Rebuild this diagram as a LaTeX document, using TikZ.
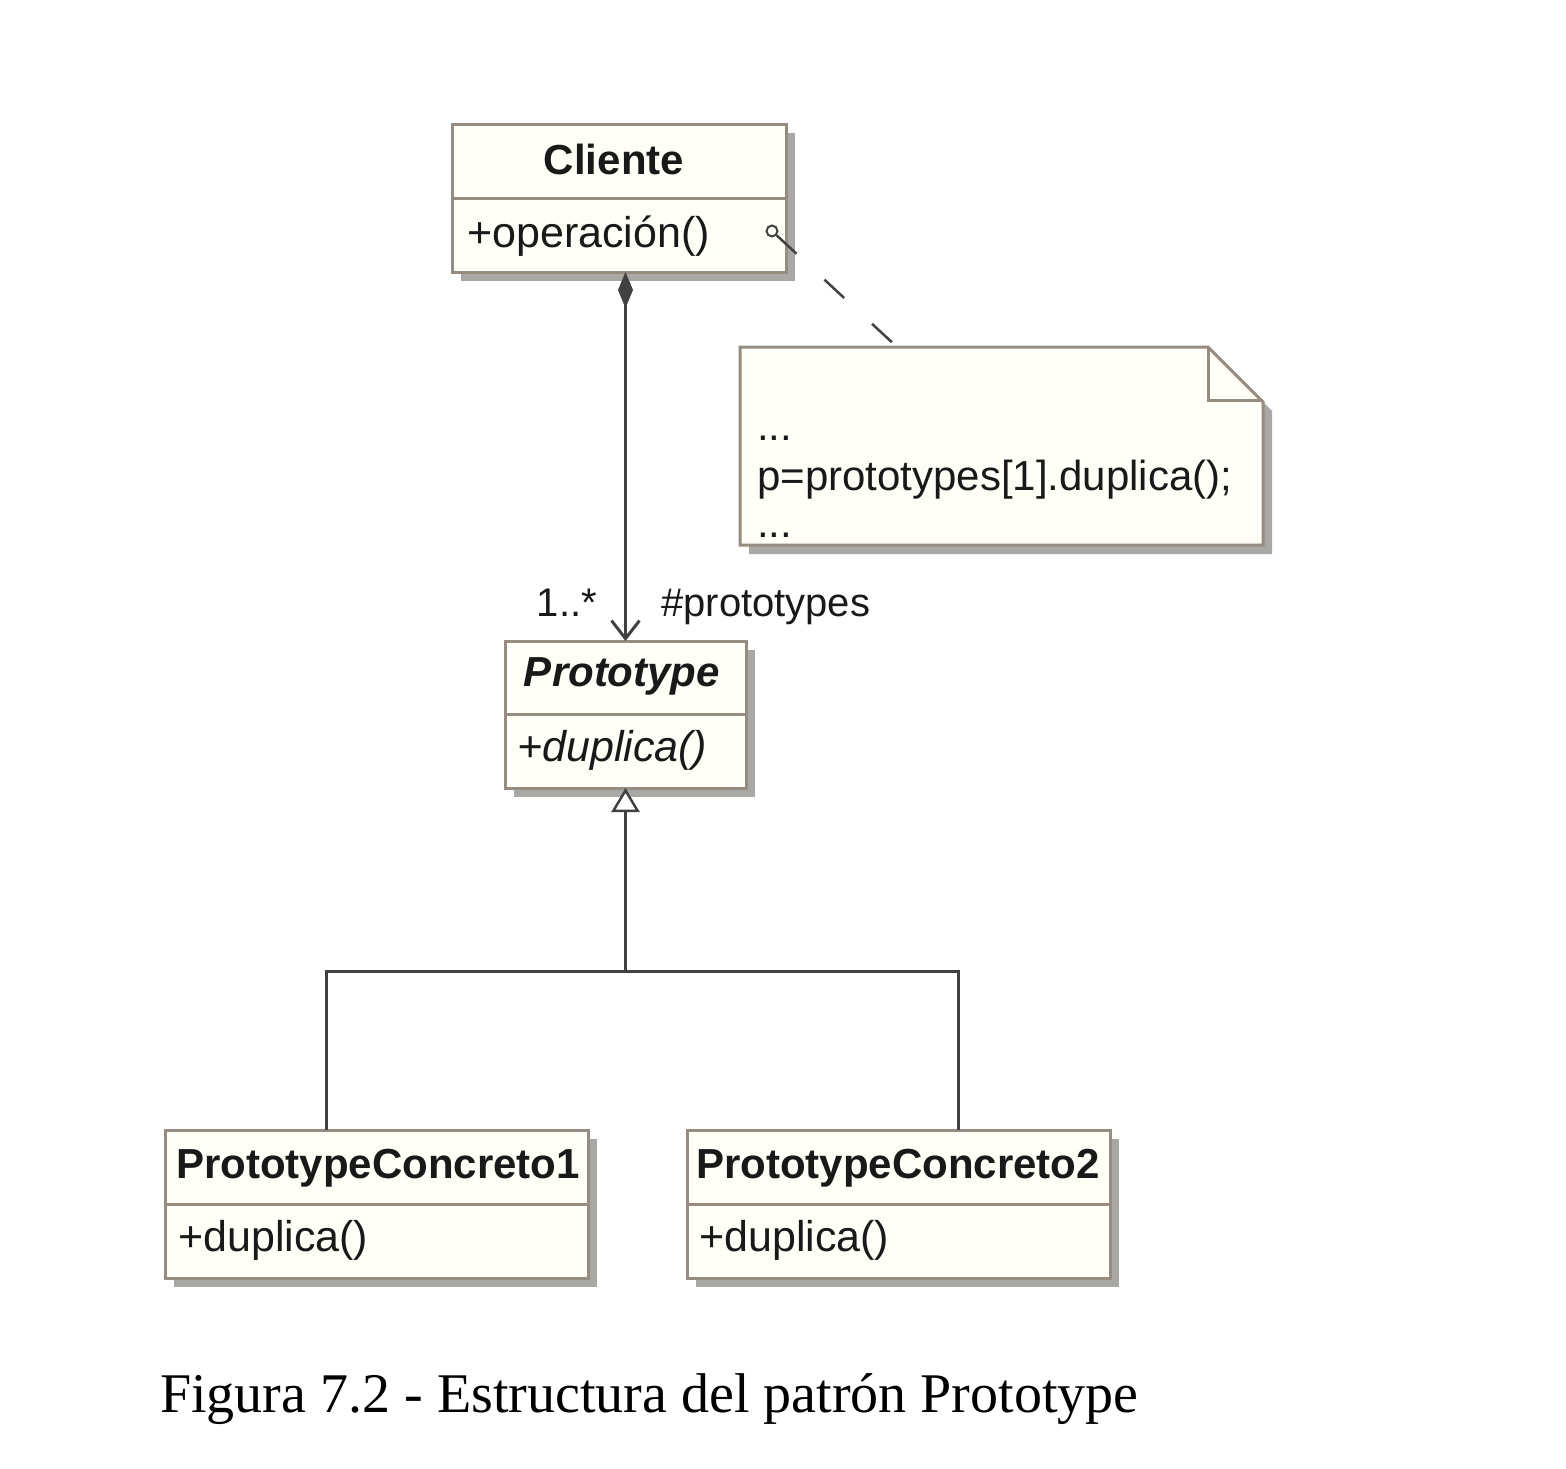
\documentclass[tikz,border=0pt]{standalone}
\usepackage{fontspec}
\setmainfont{Liberation Sans}
\newfontfamily\capfont{Liberation Serif}
\usetikzlibrary{arrows.meta,shadows}
\definecolor{boxborder}{RGB}{150,140,128}
\definecolor{boxfill}{RGB}{255,254,247}
\definecolor{shadowgray}{RGB}{170,168,165}
\definecolor{linecol}{RGB}{65,65,65}
\definecolor{textcol}{RGB}{25,25,25}
\begin{document}
\begin{tikzpicture}[x=1pt,y=-1pt,
  classbox/.style={draw=boxborder, fill=boxfill, line width=3pt, inner sep=0pt, outer sep=0pt,
    anchor=north west,
    drop shadow={shadow xshift=9pt, shadow yshift=-9pt, fill=shadowgray, opacity=1}},
  divider/.style={draw=boxborder, line width=3pt},
  hdr/.style={font=\fontsize{42}{48}\selectfont\bfseries, text=textcol, inner sep=0pt},
  meth/.style={font=\fontsize{43}{48}\selectfont, text=textcol, inner sep=0pt, anchor=west},
  notetxt/.style={font=\fontsize{42}{48}\selectfont, text=textcol, inner sep=0pt, anchor=base west},
  lbl/.style={font=\fontsize{40}{48}\selectfont, text=textcol, inner sep=0pt},
  assoc/.style={draw=linecol, line width=3pt},
  notelink/.style={draw=linecol, line width=2.5pt, dash pattern=on 27pt off 38pt}
]
\useasboundingbox[fill=white] (0,0) rectangle (1566,1468);

% ---- Cliente
\node[classbox, minimum width=334pt, minimum height=148pt] (cliente) at (452,124) {};
\draw[divider] (452,198) -- (786,198);
\node[hdr] (clienteT) at (614,159) {Cliente};
\node[meth] (clienteM) at (467,236) {+operación()};

% ---- Note
\node[inner sep=0pt, outer sep=0pt, minimum width=523pt, minimum height=198pt, anchor=north west] (note) at (740,347) {};
\fill[shadowgray] (749,356) -- (1217,356) -- (1272,411) -- (1272,554) -- (749,554) -- cycle;
\draw[draw=boxborder, fill=boxfill, line width=3pt, line join=miter]
  (note.north west) -- (1208,347) -- (note.north east |- 0,402) -- (note.south east) -- (note.south west) -- cycle;
\draw[draw=boxborder, line width=3pt] (1208,347) -- (1208,400) -- (1263,400);
\node[notetxt] (nd1) at (757,440) {...};
\node[notetxt] (ntext) at (757,490) {p=prototypes[1].duplica();};
\node[notetxt] (nd2) at (757,537) {...};

% ---- note link
\node[draw=linecol, circle, line width=2pt, minimum size=11pt, inner sep=0pt] (anc) at (772,231) {};
\coordinate (notetop) at (897,347);
\draw[notelink] (anc) -- (notetop);

% ---- Prototype
\node[classbox, minimum width=241pt, minimum height=147pt] (proto) at (505,641) {};
\draw[divider] (505,714) -- (746,714);
\node[hdr, font=\fontsize{42}{48}\selectfont\bfseries\itshape] (protoT) at (622,676) {Prototype};
\node[meth, font=\fontsize{43}{48}\selectfont\itshape] (protoM) at (517,750) {+duplica()};

% ---- composition
\draw[assoc, {Diamond[length=36pt,width=15pt]}-{Straight Barb[length=18pt,width=28pt]}]
  (cliente.south -| proto.north) -- (proto.north);
\node[lbl, anchor=base east] (mult) at (597,616) {1..*};
\node[lbl, anchor=base west] (role) at (661,616) {\#prototypes};

% ---- concrete classes
\node[classbox, minimum width=423pt, minimum height=148pt] (pc1) at (165,1130) {};
\draw[divider] (165,1204) -- (588,1204);
\node[hdr, anchor=west] (pc1T) at (176,1168) {PrototypeConcreto1};
\node[meth] (pc1M) at (178,1240) {+duplica()};

\node[classbox, minimum width=423pt, minimum height=148pt] (pc2) at (687,1130) {};
\draw[divider] (687,1204) -- (1110,1204);
\node[hdr, anchor=west] (pc2T) at (696,1168) {PrototypeConcreto2};
\node[meth] (pc2M) at (699,1240) {+duplica()};

% ---- generalization
\path (proto.south) ++(0,183) coordinate (j);
\draw[assoc] ([xshift=-50.5pt]pc1.north) |- (j);
\draw[assoc] ([xshift=59.5pt]pc2.north) |- (j);
\draw[assoc, -{Triangle[length=24pt,width=28pt,fill=white,line width=2.5pt]}] (j) -- (proto.south);

% ---- caption
\node[font=\capfont\fontsize{56}{64}\selectfont, text=black, inner sep=0pt, anchor=base west] (caption) at (160,1412) {Figura 7.2 - Estructura del patrón Prototype};
\end{tikzpicture}
\end{document}
